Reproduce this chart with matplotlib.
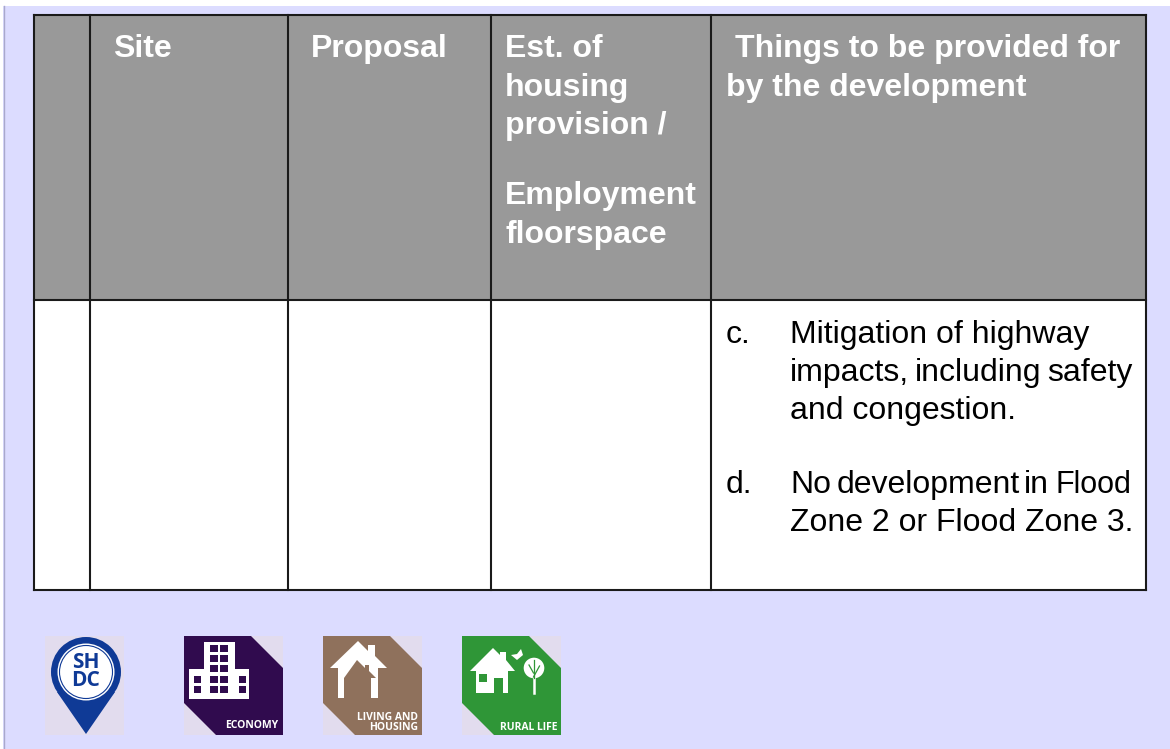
import matplotlib
matplotlib.use('Agg')
import matplotlib.pyplot as plt
from matplotlib.patches import Rectangle, Polygon, Circle

plt.rcParams['font.family'] = ['Liberation Sans', 'DejaVu Sans']

# table text
col_edges = [34, 90, 288, 490.5, 711, 1146]
row_edges = [15, 300, 590]
header_lines = [
    (113, 49, 'Site'),
    (311, 49, 'Proposal'),
    (505, 49, 'Est. of'),
    (505, 88, 'housing'),
    (505, 126, 'provision /'),
    (505, 196, 'Employment'),
    (505, 235, 'floorspace'),
    (735, 49, 'Things to be provided for'),
    (726, 88, 'by the development'),
]
# some lines have tighter word gaps in the original, so words sit on their own
body_lines = [
    (726, 335, 'c.'),
    (790, 335, 'Mitigation of highway'),
    (790, 373, 'impacts,'),
    (915, 373, 'including'),
    (1047, 373, 'safety'),
    (790, 411, 'and congestion.'),
    (726, 485, 'd.'),
    (790, 485, 'No'),
    (836.5, 485, 'development'),
    (1024, 485, 'in'),
    (790, 523, 'Zone 2 or Flood Zone 3.'),
]

BG = '#dcdcff'
TILE = '#e2dcee'
PURPLE = '#300b4e'
BROWN = '#8f715c'
GREEN = '#2f9637'
BLUE = '#0f3a96'

fig = plt.figure(figsize=(11.7, 7.49), dpi=100, facecolor='white')
ax = fig.add_axes([0, 0, 1, 1], xlim=(0, 1170), ylim=(749, 0))
ax.axis('off')

# page background
ax.add_patch(Rectangle((3, 6), 1167, 743, fc=BG, ec='none'))
ax.plot([3.5, 3.5], [6, 749], color='#a9a9cc', lw=1)

# table
ax.add_patch(Rectangle((col_edges[0], row_edges[0]), col_edges[-1] - col_edges[0],
                       row_edges[1] - row_edges[0], fc='#999999', ec='none'))
ax.add_patch(Rectangle((col_edges[0], row_edges[1]), col_edges[-1] - col_edges[0],
                       row_edges[2] - row_edges[1], fc='white', ec='none'))
for x in col_edges:
    ax.plot([x, x], [row_edges[0], row_edges[-1]], color='#1a1a1a', lw=1.5, solid_capstyle='projecting')
for y in row_edges:
    ax.plot([col_edges[0], col_edges[-1]], [y, y], color='#1a1a1a', lw=1.5, solid_capstyle='projecting')

for x, y, s in header_lines:
    ax.text(x, y, s, color='white', fontsize=23, fontweight='bold', va='center', ha='left')
for x, y, s in body_lines:
    ax.text(x, y, s, color='black', fontsize=23, va='center', ha='left')
# this word is a touch narrower in the original
ax.text(1055, 485, 'Flood', color='black', fontsize=22, va='center', ha='left')


def rect(x, y, w, h, c='white'):
    ax.add_patch(Rectangle((x, y), w, h, fc=c, ec='none'))


def tile(x, color):
    # square tile with two cut corners, 99px wide
    y = 636
    ax.add_patch(Rectangle((x, y), 99, 99, fc=TILE, ec='none'))
    ax.add_patch(Polygon([(x, y), (x + 67, y), (x + 99, y + 32), (x + 99, y + 99),
                          (x + 32, y + 99), (x, y + 67)], fc=color, ec='none'))


def label(x, y, s):
    ax.text(x, y, s, color='white', fontsize=7.5, fontweight='bold', ha='right', va='center',
            family='Open Sans')


# SHDC pin
ax.add_patch(Rectangle((45, 636), 79, 99, fc=TILE, ec='none'))
ax.add_patch(Polygon([(57, 692), (86, 734), (115, 692)], fc=BLUE, ec='none'))
ax.add_patch(Circle((86, 672), 35, fc=BLUE, ec='none'))
ax.add_patch(Circle((86, 672), 28.5, fc='white', ec='none'))
ax.add_patch(Circle((86, 672), 26.5, fc='none', ec=BLUE, lw=0.8))
ax.text(86, 662, 'SH', color=BLUE, fontsize=15, fontweight='bold', ha='center', va='center', family='Open Sans')
ax.text(86, 681, 'DC', color=BLUE, fontsize=15, fontweight='bold', ha='center', va='center', family='Open Sans')

# economy
tile(184, PURPLE)
rect(204, 642, 31, 57)
rect(189, 669, 60, 30)
for wx in [210, 220]:
    for wy in [645, 655, 665, 676, 686]:
        rect(wx, wy, 7.5, 7, PURPLE)
for wx in [194, 239]:
    for wy in [676, 686]:
        rect(wx, wy, 7, 7, PURPLE)
label(278.5, 726, 'ECONOMY')

# living and housing
tile(323, BROWN)
ax.add_patch(Polygon([(330, 668), (358, 641), (368, 651), (368, 645), (375, 645), (375, 656),
                      (387, 668), (378, 668), (378, 698), (371, 698), (371, 678), (376, 678),
                      (369, 671), (369, 665), (365, 665), (365, 668), (357, 660), (344, 678),
                      (344, 698), (338, 698), (338, 668)], fc='white', ec='none'))
label(418, 718, 'LIVING AND')
label(418, 728, 'HOUSING')

# rural life
tile(462, GREEN)
ax.add_patch(Polygon([(470, 671), (493, 648), (500, 655), (500, 652), (506, 652), (506, 660),
                      (515, 671), (508, 671), (508, 693), (503, 693), (503, 678), (494, 678),
                      (494, 693), (476, 693), (476, 671)], fc='white', ec='none'))
rect(479, 674, 8, 8, GREEN)
ax.add_patch(Polygon([(511, 655), (517, 654), (521, 649), (523, 655), (517, 660)], fc='white', ec='none'))
ax.add_patch(Circle((534, 668), 10.3, fc='white', ec='none'))
ax.plot([533.5, 533.5], [676, 693], color='white', lw=1.8)
ax.plot([533.5, 533.5], [660, 678], color=GREEN, lw=0.9)
ax.plot([533.5, 539.5], [677, 666], color=GREEN, lw=0.9)
ax.plot([533.5, 529], [673, 665], color=GREEN, lw=0.9)
label(557, 727, 'RURAL LIFE')

fig.savefig('out.png', dpi=100)
